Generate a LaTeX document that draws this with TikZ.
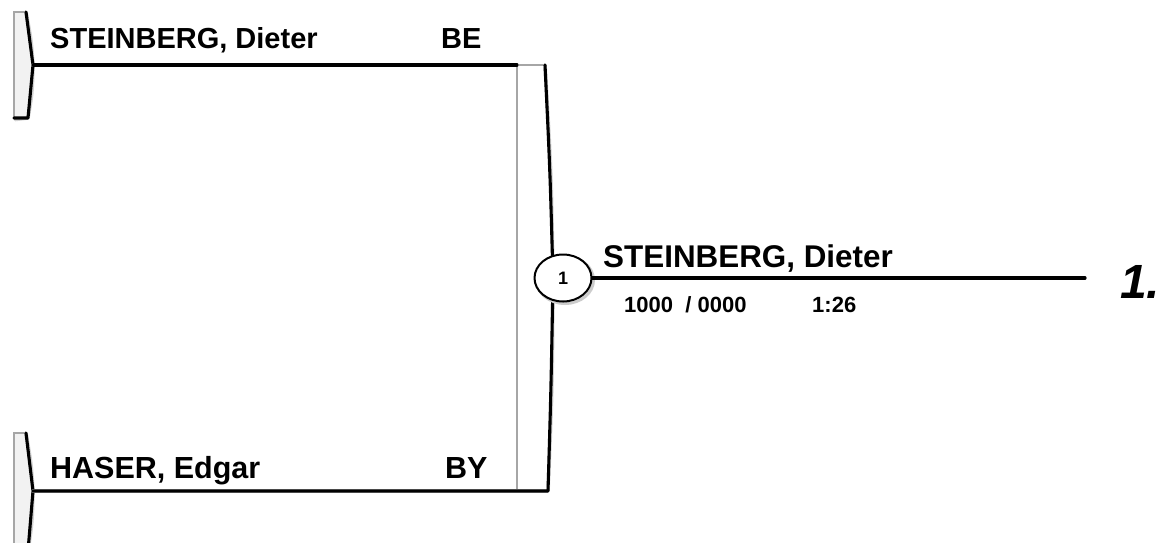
\documentclass[tikz,border=0pt]{standalone}
\usepackage{fontspec}
\setmainfont{Liberation Sans}
\usetikzlibrary{shapes.geometric}
\tikzset{
  heavy/.style={line width=3.1pt, line cap=round, line join=round},
  shade/.style={line width=3.6pt, gray!35, line cap=round, line join=round},
  thin/.style={line width=1.1pt, gray!70},
  label/.style={inner sep=0pt, anchor=base west, font=\bfseries},
}
\begin{document}
\begin{tikzpicture}[x=1pt,y=-1pt]
\useasboundingbox (0,0) rectangle (1161,542);
% coordinates
\coordinate (t1) at (26,12);
\coordinate (b1) at (33,65);
\coordinate (u1) at (28,118);
\coordinate (t2) at (26,433);
\coordinate (b2) at (33,491);
\coordinate (u2) at (28,551);
\coordinate (gl) at (517,65);
\coordinate (gb) at (517,491);
\coordinate (cr) at (545,65);
\coordinate (mid) at (553,278);
\coordinate (br) at (548,491);
\coordinate (w) at (1085,278);
% left top bracket
\fill[gray!10] (14,12) -- (14,118) -- (u1) -- (b1) -- (t1) -- cycle;
\draw[thin] (t1) -- (14,12) -- (14,118);
\draw[shade,shift={(1.2,1.5)}] (14,118) -- (u1) .. controls (31,92) .. (b1) .. controls (30,38) .. (t1);
\draw[heavy] (14,118) -- (u1) .. controls (31,92) .. (b1) .. controls (30,38) .. (t1);
% left bottom bracket
\fill[gray!10] (14,433) -- (14,551) -- (u2) -- (b2) -- (t2) -- cycle;
\draw[thin] (t2) -- (14,433) -- (14,551);
\draw[shade,shift={(1.2,1.5)}] (u2) .. controls (31,521) .. (b2) .. controls (30,462) .. (t2);
\draw[heavy] (u2) .. controls (31,521) .. (b2) .. controls (30,462) .. (t2);
% big bracket
\draw[thin] (gl) -- (gb);
\draw[thin] (gl) -- (cr);
\draw[shade,shift={(1.2,1.5)}] (b1) -- (gl);
\draw[heavy] (b1) -- (gl);
\draw[shade,shift={(1.2,1.5)}] (b2) -- (br) .. controls (551,390) .. (mid) .. controls (550,170) .. (cr);
\draw[heavy] (b2) -- (br) .. controls (551,390) .. (mid) .. controls (550,170) .. (cr);
% match circle and winner line
\draw[shade,shift={(1.2,1.5)}] (mid) -- (w);
\node[ellipse, draw=gray!40, line width=3pt, minimum width=57pt, minimum height=47pt, inner sep=0pt] (m0) at (565,280) {};
\node[ellipse, draw, fill=white, line width=2pt, minimum width=57pt, minimum height=47pt, inner sep=0pt, font=\bfseries\fontsize{18}{18}\selectfont] (m1) at (563,278) {1};
\draw[heavy] (m1.east) -- (w);
% texts
\node[label, font=\bfseries\fontsize{29}{30}\selectfont] (n1) at (50,48) {STEINBERG, Dieter};
\node[label, font=\bfseries\fontsize{29}{30}\selectfont] (c1) at (441,48) {BE};
\node[label, font=\bfseries\fontsize{30.5}{31}\selectfont] (n2) at (50,478) {HASER, Edgar};
\node[label, font=\bfseries\fontsize{30.5}{31}\selectfont] (c2) at (445,478) {BY};
\node[label, font=\bfseries\fontsize{31.4}{32}\selectfont] (win) at (603,267) {STEINBERG, Dieter};
\node[label, font=\bfseries\fontsize{22}{23}\selectfont] (sc) at (624,312) {1000\ \ / 0000};
\node[label, font=\bfseries\fontsize{22}{23}\selectfont] (tm) at (812,312) {1:26};
\node[label, font=\bfseries\itshape\fontsize{48}{49}\selectfont] (pl) at (1120,298) {1.};
\end{tikzpicture}
\end{document}
